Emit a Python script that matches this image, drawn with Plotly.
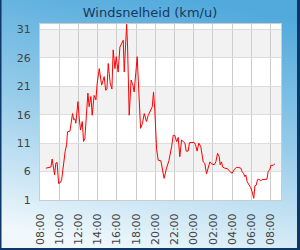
import base64
from datetime import datetime, timedelta
import plotly.graph_objects as go

title_text = "Windsnelheid (km/u)"

times = ["08:37","09:02","09:08","09:16","09:25","09:31","09:39","09:47","09:56","10:04",
         "10:15","10:25","10:37","10:46","10:52","11:07","11:17","11:23","11:30","11:38",
         "11:44","11:57","12:05","12:13","12:24","12:32","12:40","12:51","12:59","13:07",
         "13:18","13:26","13:38","13:49","13:57","14:10","14:25","14:41","14:50","14:58",
         "15:06","15:18","15:29","15:37","15:48","15:56","16:08","16:19","16:29","16:40",
         "16:46","17:01","17:07","17:17","17:29","17:40","17:48","18:07","18:28","18:40",
         "18:51","19:05","19:16","19:30","19:41","19:49","19:57","20:08","20:18","20:35",
         "20:43","20:55","21:10","21:25","21:42","21:52","22:02","22:13","22:23","22:33",
         "22:44","22:54","23:05","23:13","23:25","23:34","00:03","00:11","00:21","00:32",
         "00:44","00:59","01:09","01:20","01:30","01:41","01:51","02:08","02:18","02:29",
         "02:39","02:45","02:54","03:00","03:14","03:31","03:46","04:00","04:12","04:27",
         "04:42","04:54","05:02","05:11","05:19","05:25","05:34","05:44","05:55","06:05",
         "06:15","06:22","06:30","06:39","06:47","06:59","07:07","07:37","07:45","07:55",
         "08:02","08:16","08:27"]

speeds = [6.6,6.7,6.8,8.2,6.8,5.4,7.5,7.6,3.9,4.0,
          4.5,6.9,9.5,10.7,13.0,13.1,14.8,16.2,15.1,15.3,
          14.5,18.3,15.4,13.3,14.8,11.3,11.8,17.4,19.8,17.4,
          19.2,15.9,19.4,18.6,21.5,24.1,21.2,22.7,20.3,20.5,
          25.0,21.6,20.5,27.4,24.1,26.2,23.5,27.9,28.5,29.1,
          23.5,31.9,27.9,15.9,22.1,21.2,20.0,26.2,13.6,14.5,
          16.2,14.8,15.9,16.8,17.4,20.0,16.8,10.0,8.0,7.9,
          6.6,4.8,6.6,7.9,10.4,12.4,12.35,11.25,12.0,8.6,
          11.55,11.25,11.0,9.6,9.6,11.1,11.1,10.7,9.6,11.0,
          10.4,7.7,7.45,5.6,6.6,7.7,7.35,7.2,7.7,9.2,
          8.6,7.2,7.7,6.8,6.6,6.5,6.0,5.7,6.3,6.75,
          6.7,6.6,6.0,5.7,5.1,5.4,4.2,3.8,3.2,2.45,
          1.3,3.5,3.6,4.6,4.65,4.35,4.6,4.65,6.0,6.4,
          7.1,7.1,7.35]

y_ticks = [1, 6, 11, 16, 21, 26, 31]
x_start = "2024-05-01 08:00"
x_end = "2024-05-02 09:05"

# build datetimes with day rollover
base = datetime(2024, 5, 1)
xs = []
day = 0
prev = None
for t in times:
    h, m = map(int, t.split(":"))
    if prev is not None and (h * 60 + m) < prev:
        day += 1
    prev = h * 60 + m
    xs.append(base + timedelta(days=day, hours=h, minutes=m))

W, H = 300, 250
ML, MR, MT, MB = 40, 19, 24, 50
PW, PH = W - ML - MR, H - MT - MB

svg = f'''<svg xmlns="http://www.w3.org/2000/svg" width="{W}" height="{H}" viewBox="0 0 {W} {H}">
<defs><linearGradient id="g" x1="0.62" y1="0" x2="0.38" y2="1">
<stop offset="0" stop-color="#52aadc"/>
<stop offset="0.5" stop-color="#98cdea"/>
<stop offset="1" stop-color="#f0f8fc"/>
</linearGradient></defs>
<rect x="0" y="0" width="{W}" height="{H}" fill="url(#g)"/>
<rect x="0" y="0" width="1.5" height="{H}" fill="#0b3866"/>
<rect x="{W-3}" y="0" width="3" height="{H}" fill="#0b3866"/>
<rect x="0" y="{H-2}" width="{W}" height="2" fill="#0b3866"/>
</svg>'''
src = "data:image/svg+xml;base64," + base64.b64encode(svg.encode()).decode()

fig = go.Figure()
fig.add_trace(go.Scatter(x=xs, y=speeds, mode="lines",
                         line=dict(color="#ff0000", width=1), hoverinfo="skip"))

shapes = [dict(type="rect", xref="paper", yref="paper", x0=0, x1=1, y0=0, y1=1,
               fillcolor="white", line=dict(width=0), layer="below")]
for i in range(len(y_ticks) - 1):
    if (len(y_ticks) - 2 - i) % 2 == 0:
        shapes.append(dict(type="rect", xref="paper", yref="y", x0=0, x1=1,
                           y0=y_ticks[i], y1=y_ticks[i + 1],
                           fillcolor="#f2f2f2", line=dict(width=0), layer="below"))

fig.update_layout(
    width=W, height=H,
    margin=dict(l=ML, r=MR, t=MT, b=MB, pad=0, autoexpand=False),
    paper_bgcolor="rgba(0,0,0,0)",
    plot_bgcolor="rgba(0,0,0,0)",
    showlegend=False,
    title=dict(text=title_text, x=0.5, xref="container", xanchor="center",
               y=1 - 12.5 / H, yref="container", yanchor="middle", automargin=False,
               font=dict(family="DejaVu Sans", size=13, color="#17395c")),
    images=[dict(source=src, xref="paper", yref="paper",
                 x=-ML / PW, y=1 + MT / PH, sizex=W / PW, sizey=H / PH,
                 xanchor="left", yanchor="top", sizing="stretch", layer="below")],
    shapes=shapes,
    xaxis=dict(type="date", range=[x_start, x_end], tick0="2024-05-01 08:00",
               dtick=2 * 3600 * 1000, tickformat="%H:%M", tickangle=-90,
               showgrid=True, gridcolor="#cccccc", gridwidth=1,
               showline=True, linecolor="#cccccc", linewidth=1, mirror=True,
               ticks="outside", ticklen=8, tickcolor="rgba(0,0,0,0)",
               tickfont=dict(family="DejaVu Sans", size=11, color="#444444"),
               zeroline=False, fixedrange=True, automargin=False),
    yaxis=dict(range=[1, 31.95], tickvals=y_ticks,
               showgrid=True, gridcolor="#dddddd", gridwidth=1,
               showline=True, linecolor="#cccccc", linewidth=1, mirror=True,
               ticks="outside", ticklen=6, tickcolor="rgba(0,0,0,0)",
               tickfont=dict(family="DejaVu Sans", size=11, color="#444444"),
               zeroline=False, fixedrange=True, automargin=False),
)

fig.write_html("out.html", config={"displayModeBar": False})
